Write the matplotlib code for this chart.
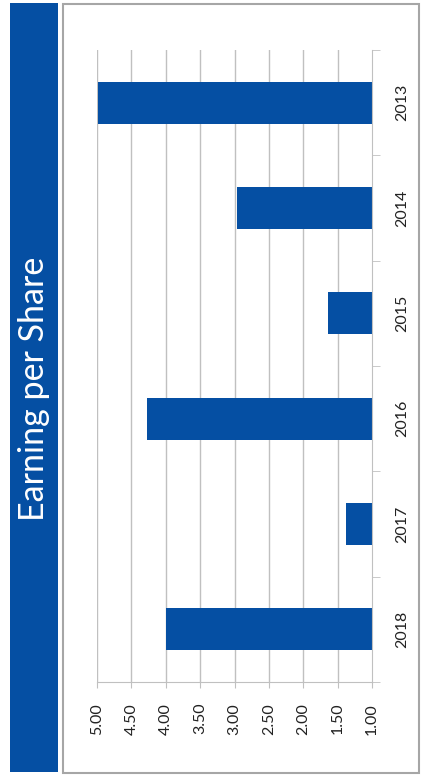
import matplotlib.pyplot as plt
from matplotlib.patches import Rectangle
import numpy as np

# data
years = ['2013', '2014', '2015', '2016', '2017', '2018']
eps = [4.99, 2.97, 1.64, 4.27, 1.38, 3.99]
ticks = [5.0, 4.5, 4.0, 3.5, 3.0, 2.5, 2.0, 1.5, 1.0]

blue = '#054FA3'
grid = '#C0C0C0'

W, H = 421, 777
fig = plt.figure(figsize=(W / 100, H / 100), dpi=100)
plt.rcParams['font.family'] = ['Lato', 'DejaVu Sans']

# outer frame and title band (pixel coords -> figure fraction)
def px(x0, y0, x1, y1):
    return (x0 / W, 1 - y1 / H), (x1 - x0) / W, (y1 - y0) / H

xy, w, h = px(63, 4, 419, 773)
fig.patches.append(Rectangle(xy, w, h, transform=fig.transFigure, zorder=-2,
                             facecolor='white', edgecolor='#A6A6A6', lw=1.5))
xy, w, h = px(10, 3, 58, 772)
fig.patches.append(Rectangle(xy, w, h, transform=fig.transFigure, zorder=-2,
                             facecolor=blue, edgecolor='none'))
fig.text(34 / W, 1 - 389 / H, 'Earning per Share', rotation=90, color='white',
         fontsize=24.5, ha='center', va='center')

ax = fig.add_axes([97 / W, 1 - 682 / H, 275 / W, 632 / H])
ax.patch.set_alpha(0)
pos = np.arange(len(years))
vals = np.array(eps)
ax.barh(pos, vals - 1, left=1, height=0.4, color=blue, zorder=3)

ax.set_xlim(5, 1)
ax.set_ylim(len(years) - 0.5, -0.5)

ax.set_xticks(ticks)
ax.set_xticklabels(['%.2f' % t for t in ticks], rotation=90, fontsize=11.5)
ax.tick_params(axis='x', length=4, color=grid, pad=11, labelcolor='#222222')
for t in ticks[:-1]:
    ax.axvline(t, color=grid, lw=1, zorder=1)

ax.yaxis.tick_right()
ax.set_yticks(pos)
ax.set_yticklabels(years, rotation=90, va='center', fontsize=11.5)
ax.set_yticks(np.arange(-0.5, len(years), 1), minor=True)
ax.tick_params(axis='y', which='major', length=0, pad=17, labelcolor='#222222')
ax.tick_params(axis='y', which='minor', length=6, color=grid)

for s in ['top', 'left']:
    ax.spines[s].set_visible(False)
ax.spines['right'].set_color(grid)
ax.spines['bottom'].set_color(grid)
ax.spines['right'].set_zorder(4)

fig.savefig('out.png', dpi=100)
